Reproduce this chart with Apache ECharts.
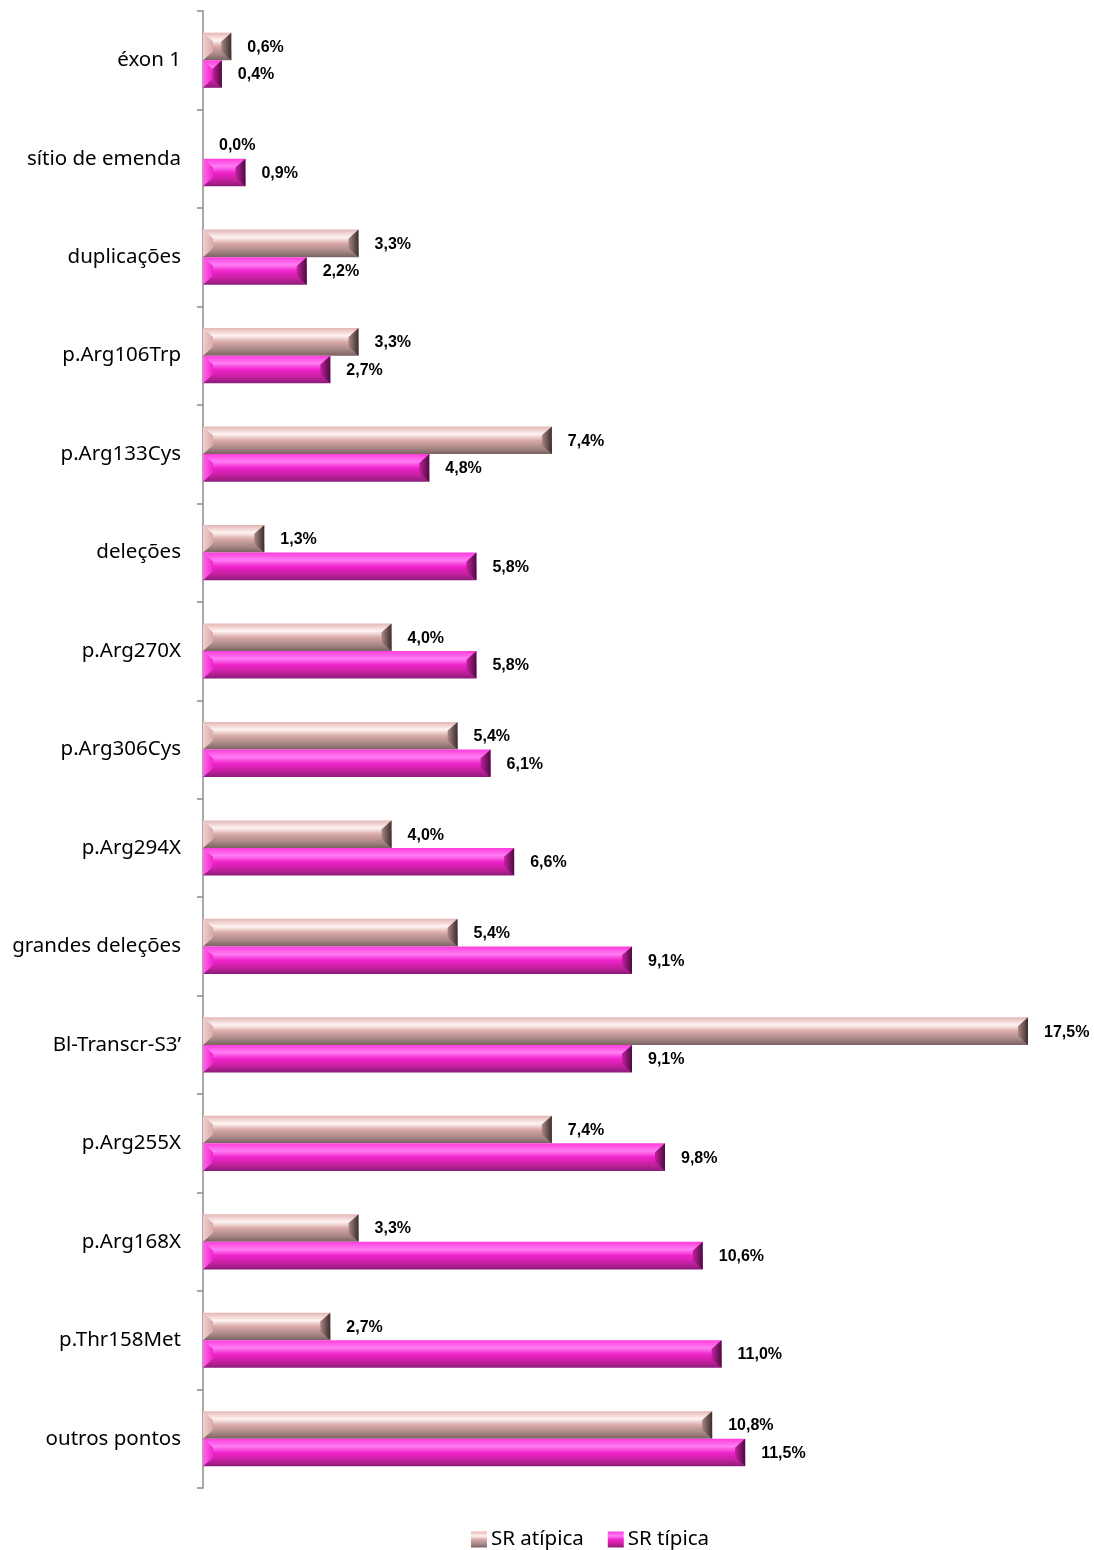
<!DOCTYPE html>
<html>
<head>
<meta charset="utf-8">
<script src="https://cdn.jsdelivr.net/npm/echarts@6/dist/echarts.min.js"></script>
<style>
  html, body { margin: 0; padding: 0; background: #fff; }
  #chart { width: 1094px; height: 1550px; }
</style>
</head>
<body>
<div id="chart"></div>
<script>
// Mutation categories, top to bottom
var categories = [
  'éxon 1', 'sítio de emenda', 'duplicações', 'p.Arg106Trp', 'p.Arg133Cys',
  'deleções', 'p.Arg270X', 'p.Arg306Cys', 'p.Arg294X', 'grandes deleções',
  'Bl-Transcr-S3\u2019', 'p.Arg255X', 'p.Arg168X', 'p.Thr158Met', 'outros pontos'
];
// Percentages per group
var atipica = [0.6, 0.0, 3.3, 3.3, 7.4, 1.3, 4.0, 5.4, 4.0, 5.4, 17.5, 7.4, 3.3, 2.7, 10.8];
var tipica  = [0.4, 0.9, 2.2, 2.7, 4.8, 5.8, 5.8, 6.1, 6.6, 9.1, 9.1, 9.8, 10.6, 11.0, 11.5];
var seriesNames = ['SR atípica', 'SR típica'];

var palettes = [
  { top: '#e3b6b4', hi: '#fff4f2', mid: '#d9aaa8', low: '#a88886', bottom: '#7a6262', left: '#f0cfcc', right: '#3c2c2c' },
  { top: '#ff3cdc', hi: '#ff7ef4', mid: '#f024cc', low: '#c4209e', bottom: '#8a1c78', left: '#ff66ee', right: '#4a0c40' }
];

function vGrad(p) {
  return new echarts.graphic.LinearGradient(0, 0, 0, 1, [
    { offset: 0, color: p.top },
    { offset: 0.28, color: p.hi },
    { offset: 0.5, color: p.mid },
    { offset: 0.78, color: p.low },
    { offset: 1, color: p.bottom }
  ]);
}

function fmt(v) { return v.toFixed(1).replace('.', ',') + '%'; }

// Beveled horizontal bar with its value label
function makeRender(idx) {
  var p = palettes[idx];
  return function (params, api) {
    var cat = api.value(0);
    var val = api.value(1);
    var start = api.coord([0, cat]);
    var end = api.coord([val, cat]);
    var band = api.size([0, 1])[1];
    var h = band * 0.28;
    var cy = start[1] + (idx === 0 ? -h / 2 : h / 2);
    var y0 = cy - h / 2, y1 = cy + h / 2;
    var x0 = start[0], x1 = end[0];
    var w = x1 - x0;
    var children = [];
    if (w > 0) {
      var d = Math.min(10, w / 2);
      children.push({
        type: 'rect', shape: { x: x0, y: y0, width: w, height: h },
        style: { fill: vGrad(p) }
      });
      children.push({
        type: 'polygon',
        shape: { points: [[x0, y0], [x0 + d, y0 + h * 0.32], [x0 + d, y1 - h * 0.32], [x0, y1]] },
        style: { fill: new echarts.graphic.LinearGradient(0, 0, 1, 0, [
          { offset: 0, color: p.left }, { offset: 1, color: p.mid }]) }
      });
      children.push({
        type: 'polygon',
        shape: { points: [[x1, y0], [x1 - d, y0 + h * 0.32], [x1 - d, y1 - h * 0.32], [x1, y1]] },
        style: { fill: new echarts.graphic.LinearGradient(0, 0, 1, 0, [
          { offset: 0, color: p.low }, { offset: 1, color: p.right }]) }
      });
    }
    children.push({
      type: 'text',
      style: {
        x: x1 + 16, y: cy + 1,
        text: fmt(val),
        fill: '#000',
        font: 'bold 16px "Liberation Sans", Arial, sans-serif',
        align: 'left', verticalAlign: 'middle'
      }
    });
    return { type: 'group', children: children };
  };
}

function seriesData(arr) {
  return arr.map(function (v, i) { return [i, v]; });
}

var chart = echarts.init(document.getElementById('chart'), null, { renderer: 'canvas' });
chart.setOption({
  animation: false,
  backgroundColor: '#fff',
  grid: { left: 203, top: 11, bottom: 62, width: 848.6 },
  xAxis: {
    type: 'value', min: 0, max: 18, show: false
  },
  yAxis: {
    type: 'category',
    data: categories,
    inverse: true,
    axisLine: { show: true, lineStyle: { color: '#8c8c8c', width: 1.5 } },
    axisTick: { show: true, length: 6, lineStyle: { color: '#8c8c8c', width: 1.5 } },
    axisLabel: {
      color: '#000', fontSize: 20.5, margin: 22,
      fontFamily: '"Noto Sans", "Open Sans", sans-serif'
    },
    splitLine: { show: false }
  },
  legend: {
    top: 1524,
    left: 466,
    itemWidth: 16, itemHeight: 16, itemGap: 24,
    icon: 'rect',
    textStyle: { fontSize: 20.5, color: '#000', fontFamily: '"Noto Sans", "Open Sans", sans-serif', padding: [0, 0, 0, -1] },
    data: seriesNames
  },
  series: [
    {
      name: seriesNames[0], type: 'custom',
      encode: { x: 1, y: 0 },
      itemStyle: { color: vGrad(palettes[0]) },
      renderItem: makeRender(0),
      data: seriesData(atipica)
    },
    {
      name: seriesNames[1], type: 'custom',
      encode: { x: 1, y: 0 },
      itemStyle: { color: vGrad(palettes[1]) },
      renderItem: makeRender(1),
      data: seriesData(tipica)
    }
  ]
});
</script>
</body>
</html>
